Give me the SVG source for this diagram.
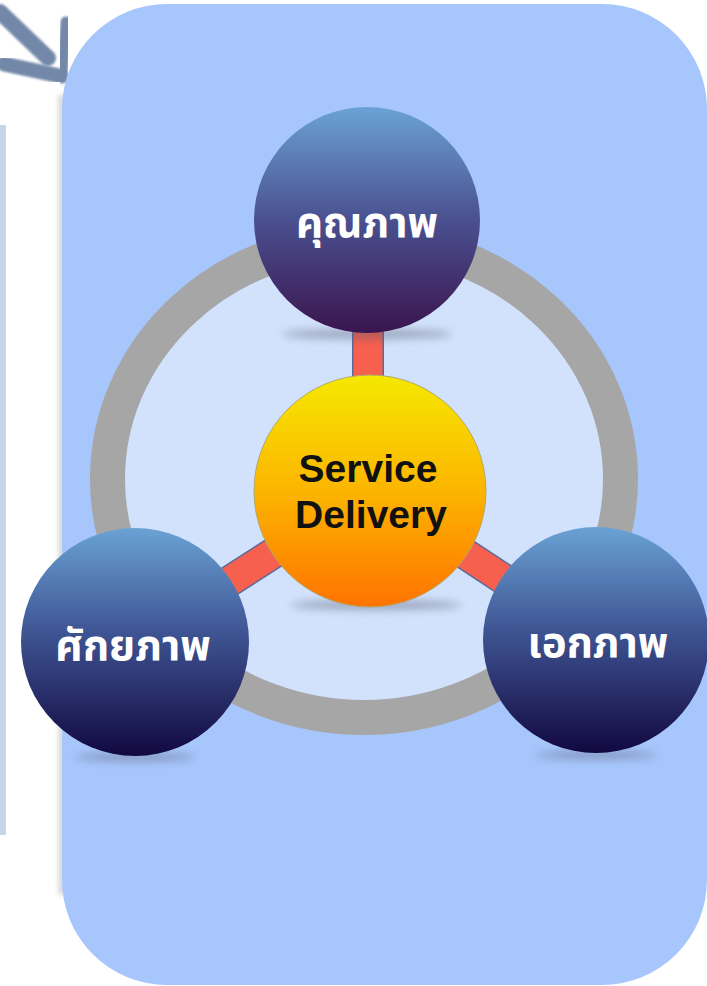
<svg xmlns="http://www.w3.org/2000/svg" width="707" height="986" viewBox="0 0 707 986">
<defs>
<style>
.th{font-family:"Noto Sans Thai","Noto Sans","DejaVu Sans",sans-serif;font-weight:bold;fill:#ffffff;text-anchor:middle;font-size:42px}
.en{font-family:"Liberation Sans",Arial,sans-serif;font-weight:bold;fill:#111111;text-anchor:middle;font-size:39px}
.spoke-o{stroke:#5a6a9a;stroke-width:32}
.spoke{stroke:#f7604f;stroke-width:29}
.shadow{fill:#555a70;opacity:0.45;filter:url(#blur)}
.arrow{stroke:#7388a8;stroke-linecap:round;fill:none;filter:url(#blur3)}
</style>
<filter id="blur" x="-50%" y="-200%" width="200%" height="500%"><feGaussianBlur stdDeviation="4"/></filter>
<filter id="blur2" x="-50%" y="-10%" width="200%" height="120%"><feGaussianBlur stdDeviation="2"/></filter>
<filter id="blur3" x="-50%" y="-50%" width="200%" height="200%"><feGaussianBlur stdDeviation="1.2"/></filter>
<linearGradient id="gTop" x1="0" y1="0" x2="0" y2="1">
<stop offset="0" stop-color="#6aa2d4"/><stop offset="0.5" stop-color="#4a5090"/><stop offset="1" stop-color="#3a154f"/>
</linearGradient>
<linearGradient id="gSide" x1="0" y1="0" x2="0" y2="1">
<stop offset="0" stop-color="#6aa2d4"/><stop offset="0.45" stop-color="#3f5694"/><stop offset="1" stop-color="#120840"/>
</linearGradient>
<linearGradient id="gCenter" x1="0" y1="0" x2="0" y2="1">
<stop offset="0" stop-color="#f5e800"/><stop offset="0.5" stop-color="#fcb500"/><stop offset="1" stop-color="#ff7300"/>
</linearGradient>
</defs>
<rect width="707" height="986" fill="#ffffff"/>
<g id="background-decor">
<rect x="0" y="125" width="6" height="710" fill="#c4d6e8"/>
<line class="arrow" x1="0" y1="12" x2="48" y2="58" stroke-width="16"/>
<line class="arrow" x1="4" y1="64" x2="60" y2="76" stroke-width="15"/>
<line class="arrow" x1="66" y1="22" x2="62" y2="78" stroke-width="11"/>
<rect x="58" y="95" width="12" height="800" fill="#a8a8a8" opacity="0.4" filter="url(#blur2)"/>
</g>
<rect id="panel" x="62" y="4" width="645" height="981" rx="105" ry="105" fill="#a7c6fc"/>
<g id="ring">
<ellipse cx="364" cy="479" rx="256.5" ry="238.5" fill="#d2e2fc" stroke="#a6a6a6" stroke-width="35"/>
</g>
<g id="connectors">
<line class="spoke-o" x1="368" y1="300" x2="368" y2="420"/>
<line class="spoke" x1="368" y1="300" x2="368" y2="420"/>
<line class="spoke-o" x1="370" y1="491" x2="135" y2="642"/>
<line class="spoke" x1="370" y1="491" x2="135" y2="642"/>
<line class="spoke-o" x1="370" y1="491" x2="596" y2="640"/>
<line class="spoke" x1="370" y1="491" x2="596" y2="640"/>
</g>
<g id="shadows">
<ellipse class="shadow" cx="367" cy="334" rx="85" ry="5"/>
<ellipse class="shadow" cx="376" cy="605" rx="85" ry="5"/>
<ellipse class="shadow" cx="135" cy="757" rx="60" ry="4"/>
<ellipse class="shadow" cx="596" cy="755" rx="60" ry="4"/>
</g>
<g id="node-quality">
<circle cx="367" cy="220" r="113" fill="url(#gTop)"/>
<text class="th" x="367" y="237">คุณภาพ</text>
</g>
<g id="node-service-delivery">
<circle cx="370" cy="491" r="116" fill="url(#gCenter)" stroke="#b0a870" stroke-width="1"/>
<text class="en" x="368" y="482">Service</text>
<text class="en" x="371" y="528">Delivery</text>
</g>
<g id="node-potential">
<circle cx="135" cy="642" r="114" fill="url(#gSide)"/>
<text class="th" x="133" y="660">ศักยภาพ</text>
</g>
<g id="node-unity">
<circle cx="596" cy="640" r="113" fill="url(#gSide)"/>
<text class="th" x="598" y="657">เอกภาพ</text>
</g>
</svg>
